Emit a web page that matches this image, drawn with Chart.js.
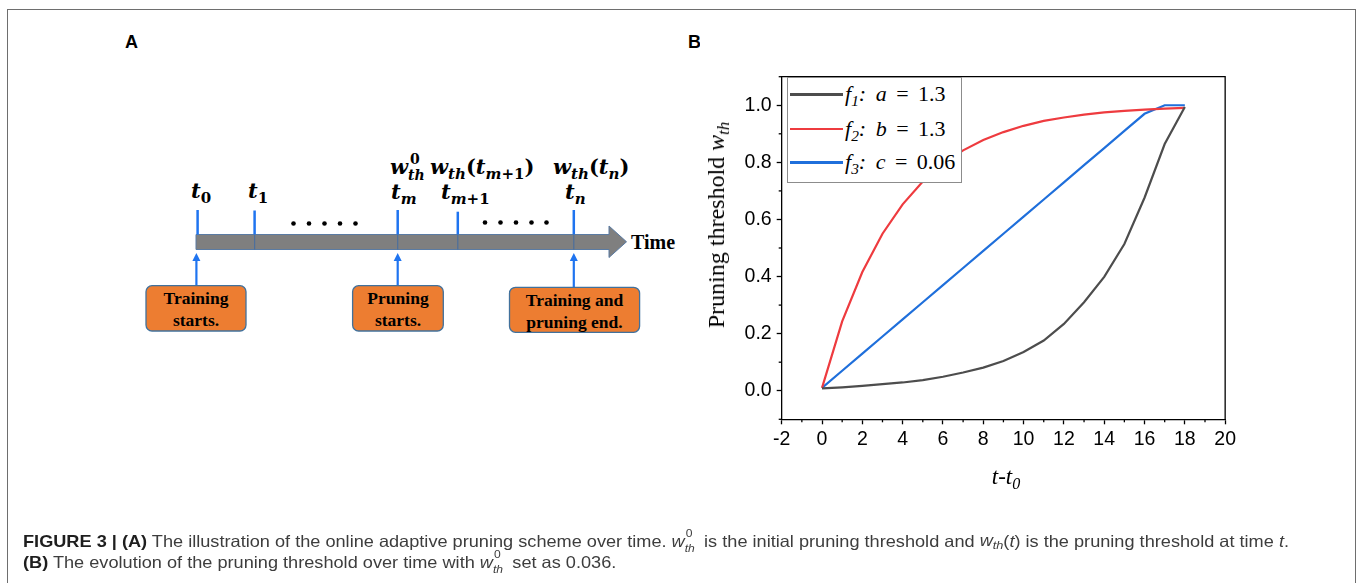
<!DOCTYPE html>
<html><head><meta charset="utf-8">
<script src="https://cdn.jsdelivr.net/npm/chart.js@4.4.1/dist/chart.umd.min.js"></script>
<style>
html,body{margin:0;padding:0;background:#fff;}
body{width:1358px;height:583px;position:relative;overflow:hidden;font-family:"Liberation Sans",Arial,sans-serif;}
#frame{position:absolute;left:7px;top:9px;width:1349px;height:640px;border:1.5px solid #6e6e6e;box-sizing:border-box;}
#panelA{position:absolute;left:0;top:0;}
#chartBox{position:absolute;left:700px;top:60px;width:540px;height:420px;}
.serif{font-family:"Liberation Serif","Times New Roman",serif;}
#ytitle{position:absolute;left:716px;top:225px;transform:translate(-50%,-50%) rotate(-90deg);white-space:nowrap;font-size:24px;line-height:28px;}
#xtitle{position:absolute;left:1006px;top:477px;transform:translate(-50%,-50%);font-size:23px;font-style:italic;white-space:nowrap;line-height:26px;}
sub{font-size:70%;vertical-align:-0.3em;line-height:0;}
#legend{position:absolute;left:787px;top:77px;width:175px;height:106px;border:1px solid #8c8c8c;box-sizing:border-box;background:#fff;}
.sw{position:absolute;left:2px;width:53px;height:2.4px;}
.lt{position:absolute;left:57px;font-size:22px;line-height:28px;white-space:nowrap;word-spacing:4px;}
.caption{position:absolute;left:23px;white-space:nowrap;font-size:16.5px;line-height:20px;color:#3d3d3d;transform-origin:0 50%;}
.caption b{color:#1e1e1e;}
.stk{display:inline-block;position:relative;width:13px;height:1em;}
.stk .s0{position:absolute;left:1px;top:-7px;font-size:11px;}
.stk .s1{position:absolute;left:0;top:8px;font-size:11px;font-style:italic;}
</style>
</head>
<body>
<div id="frame"></div>

<svg id="panelA" width="700" height="360" xmlns="http://www.w3.org/2000/svg">
  <text x="125" y="47.5" font-family="Liberation Sans" font-weight="bold" font-size="18">A</text>
  <text x="688" y="47.5" font-family="Liberation Sans" font-weight="bold" font-size="18">B</text>
  <!-- time arrow -->
  <polygon points="196,234.5 609,234.5 609,226 626.5,241.8 609,257.5 609,249.5 196,249.5" fill="#7f7f7f" stroke="#5a7ba3" stroke-width="1"/>
  <g stroke="#1f74f0" stroke-width="2.5">
    <line x1="197.6" y1="210" x2="197.6" y2="234.5"/>
    <line x1="254.6" y1="210.5" x2="254.6" y2="234.5"/>
    <line x1="397.7" y1="210" x2="397.7" y2="234.5"/>
    <line x1="457.8" y1="211.7" x2="457.8" y2="234.5"/>
    <line x1="573.8" y1="210" x2="573.8" y2="234.5"/>
  </g>
  <g stroke="#4d6f9c" stroke-width="1.2">
    <line x1="254.6" y1="234.5" x2="254.6" y2="249.5"/>
    <line x1="397.7" y1="234.5" x2="397.7" y2="249.5"/>
    <line x1="457.8" y1="234.5" x2="457.8" y2="249.5"/>
    <line x1="573.8" y1="234.5" x2="573.8" y2="249.5"/>
  </g>
  <text x="631" y="249" font-family="Liberation Serif" font-weight="bold" font-size="20">Time</text>
  <!-- dots -->
  <g fill="#000">
    <circle cx="293.5" cy="223.5" r="2.3"/><circle cx="309" cy="223.5" r="2.3"/><circle cx="324.5" cy="223.5" r="2.3"/><circle cx="340" cy="223.5" r="2.3"/><circle cx="355.5" cy="223.5" r="2.3"/>
    <circle cx="485" cy="222.5" r="2.3"/><circle cx="500.5" cy="222.5" r="2.3"/><circle cx="516" cy="222.5" r="2.3"/><circle cx="531.5" cy="222.5" r="2.3"/><circle cx="546.5" cy="222.5" r="2.3"/>
  </g>
  <!-- up arrows -->
  <g stroke="#1f74f0" stroke-width="2.2" fill="#1f74f0">
    <line x1="196.4" y1="285.5" x2="196.4" y2="259"/>
    <polygon points="196.4,253 192.4,261 200.4,261" stroke-width="0"/>
    <line x1="397.7" y1="285.5" x2="397.7" y2="259"/>
    <polygon points="397.7,253 393.7,261 401.7,261" stroke-width="0"/>
    <line x1="573.8" y1="287" x2="573.8" y2="259"/>
    <polygon points="573.8,253 569.8,261 577.8,261" stroke-width="0"/>
  </g>
  <!-- boxes -->
  <g fill="#ed7d31" stroke="#41719c" stroke-width="1.3">
    <rect x="146" y="285.7" width="100" height="45.3" rx="6"/>
    <rect x="352.6" y="285.7" width="90.7" height="45.3" rx="6"/>
    <rect x="509.5" y="287.3" width="130.1" height="45" rx="6"/>
  </g>
  <g font-family="Liberation Serif" font-weight="bold" font-size="17.5" text-anchor="middle" fill="#000">
    <text x="196" y="304">Training</text><text x="196" y="326">starts.</text>
    <text x="398" y="304">Pruning</text><text x="398" y="326">starts.</text>
    <text x="574.5" y="305.5">Training and</text><text x="574.5" y="327.5">pruning end.</text>
  </g>
  <!-- math labels -->
  <g font-family="DejaVu Serif" font-weight="bold" font-style="italic" font-size="21" fill="#000">
    <text x="191" y="198">t<tspan dy="5" font-size="15" font-style="normal">0</tspan></text>
    <text x="248" y="198">t<tspan dy="5" font-size="15" font-style="normal">1</tspan></text>
    <text x="391" y="199">t<tspan dy="5" font-size="15">m</tspan></text>
    <text x="441" y="199">t<tspan dy="5" font-size="15">m</tspan><tspan font-size="15" font-style="normal">+1</tspan></text>
    <text x="565" y="199">t<tspan dy="5" font-size="15">n</tspan></text>
    <text x="390" y="174">w</text>
    <text x="410" y="164" font-size="14" font-style="normal">0</text>
    <text x="408" y="180" font-size="14">th</text>
    <text x="430" y="174">w<tspan dy="5" font-size="15">th</tspan><tspan dy="-5" font-style="normal">(</tspan>t<tspan dy="5" font-size="15">m</tspan><tspan font-size="15" font-style="normal">+1</tspan><tspan dy="-5" font-style="normal">)</tspan></text>
    <text x="553" y="174">w<tspan dy="5" font-size="15">th</tspan><tspan dy="-5" font-style="normal">(</tspan>t<tspan dy="5" font-size="15">n</tspan><tspan dy="-5" font-style="normal">)</tspan></text>
  </g>
</svg>

<div id="chartBox"><canvas id="c" width="540" height="420"></canvas></div>
<div id="ytitle" class="serif">Pruning threshold <i>w<sub>th</sub></i></div>
<div id="xtitle" class="serif">t-t<sub>0</sub></div>
<div id="legend"></div>

<div class="caption" id="cap1"><b>FIGURE 3 | (A)</b> The illustration of the online adaptive pruning scheme over time. <i>w</i><span class="stk"><span class="s0">0</span><span class="s1">th</span></span> is the initial pruning threshold and <i>w<sub>th</sub></i>(<i>t</i>) is the pruning threshold at time <i>t</i>.</div>
<div class="caption" id="cap2"><b>(B)</b> The evolution of the pruning threshold over time with <i>w</i><span class="stk"><span class="s0">0</span><span class="s1">th</span></span> set as 0.036.</div>

<script>
// ---- data ----
const tValues  = [0,1,2,3,4,5,6,7,8,9,10,11,12,13,14,15,16,17,18];
const f1Values = [0.008,0.012,0.017,0.023,0.029,0.037,0.049,0.064,0.081,0.104,0.136,0.176,0.234,0.31,0.399,0.514,0.676,0.864,0.994];
const f2Values = [0.01,0.243,0.416,0.55,0.653,0.733,0.795,0.842,0.878,0.906,0.928,0.945,0.957,0.967,0.975,0.98,0.985,0.988,0.991];
const f3Values = [0.01,0.07,0.13,0.19,0.25,0.31,0.37,0.43,0.49,0.55,0.61,0.67,0.73,0.79,0.85,0.91,0.97,1.0,1.0];
const seriesNames  = ['f','f','f'];
const seriesSubs   = ['1','2','3'];
const seriesParams = ['a','b','c'];
const paramValues  = ['1.3','1.3','0.06'];
const seriesColors = ['#4d4d4d','#ee3b3f','#1f6fdb'];
const xTickRange = [-2, 20];
const yTickRange = [-0.1, 1.1];

const seriesData = [f1Values, f2Values, f3Values];

// legend (HTML, real text with subscripts)
const legend = document.getElementById('legend');
const rowCenters = [16.5, 51, 84.5];
seriesData.forEach((_, i) => {
  const sw = document.createElement('div');
  sw.className = 'sw';
  sw.style.top = (rowCenters[i] - 1.2) + 'px';
  sw.style.background = seriesColors[i];
  legend.appendChild(sw);
  const lt = document.createElement('div');
  lt.className = 'lt serif';
  lt.style.top = (rowCenters[i] - 14.5) + 'px';
  lt.innerHTML = '<i>' + seriesNames[i] + '<sub>' + seriesSubs[i] + '</sub>:</i> <i>' + seriesParams[i] + '</i> = ' + paramValues[i];
  legend.appendChild(lt);
});

const frameAndMinor = {
  id: 'frameAndMinor',
  afterDraw(chart) {
    const ctx = chart.ctx, a = chart.chartArea, xs = chart.scales.x, ys = chart.scales.y;
    ctx.save();
    ctx.strokeStyle = '#000';
    ctx.lineWidth = 1.3;
    ctx.beginPath();
    ctx.moveTo(a.left, a.top); ctx.lineTo(a.right, a.top); ctx.lineTo(a.right, a.bottom);
    ctx.stroke();
    xs.ticks.forEach(t => {
      if (Math.round(t.value) % 2 !== 0) {
        const px = xs.getPixelForValue(t.value);
        ctx.beginPath(); ctx.moveTo(px, a.bottom); ctx.lineTo(px, a.bottom + 3); ctx.stroke();
      }
    });
    ys.ticks.forEach(t => {
      if (Math.round(t.value * 10) % 2 !== 0) {
        const py = ys.getPixelForValue(t.value);
        ctx.beginPath(); ctx.moveTo(a.left, py); ctx.lineTo(a.left - 3, py); ctx.stroke();
      }
    });
    ctx.restore();
  }
};

const tickFont = {family: '"Liberation Sans", Arial, sans-serif', size: 19.5};

new Chart(document.getElementById('c'), {
  type: 'line',
  data: {
    datasets: seriesData.map((vals, i) => ({
      label: seriesNames[i] + seriesSubs[i],
      data: tValues.map((t, j) => ({x: t, y: vals[j]})),
      borderColor: seriesColors[i],
      borderWidth: 2.2,
      pointRadius: 0,
      tension: 0,
      fill: false
    }))
  },
  options: {
    responsive: false,
    animation: false,
    layout: {padding: {left: 0, right: 14, top: 12.7, bottom: 0}},
    plugins: {legend: {display: false}, tooltip: {enabled: false}},
    scales: {
      x: {
        type: 'linear', min: xTickRange[0], max: xTickRange[1],
        afterFit(s) { s.height = 60.7; },
        ticks: {
          stepSize: 1, autoSkip: false, maxRotation: 0, padding: 4, color: '#000', font: tickFont,
          callback: v => (Math.round(v) % 2 === 0 ? String(Math.round(v)) : '')
        },
        grid: {
          drawOnChartArea: false, tickLength: 5, tickWidth: 1.3,
          tickColor: c => (c.tick && Math.round(c.tick.value) % 2 !== 0) ? 'rgba(0,0,0,0)' : '#000'
        },
        border: {color: '#000', width: 1.3}
      },
      y: {
        type: 'linear', min: yTickRange[0], max: yTickRange[1],
        afterFit(s) { s.width = 81.7; },
        ticks: {
          stepSize: 0.1, autoSkip: false, padding: 5, color: '#000', font: tickFont,
          callback: v => { const k = Math.round(v * 10); return (k % 2 === 0 && k >= 0 && k <= 10) ? (k / 10).toFixed(1) : ''; }
        },
        grid: {
          drawOnChartArea: false, tickLength: 5, tickWidth: 1.3,
          tickColor: c => (c.tick && Math.round(c.tick.value * 10) % 2 !== 0) ? 'rgba(0,0,0,0)' : '#000'
        },
        border: {color: '#000', width: 1.3}
      }
    }
  },
  plugins: [frameAndMinor]
});

// caption lines: fit to the reference line length
function fitCaption() {
  const c1 = document.getElementById('cap1'), c2 = document.getElementById('cap2');
  c1.style.transform = 'none'; c2.style.transform = 'none';
  const w = c1.getBoundingClientRect().width;
  const s = 1266 / w;
  c1.style.transform = 'scaleX(' + s + ')';
  c2.style.transform = 'scaleX(' + s + ')';
}
document.getElementById('cap1').style.top = '529.5px';
document.getElementById('cap2').style.top = '550.5px';
fitCaption();
if (document.fonts && document.fonts.ready) document.fonts.ready.then(fitCaption);
</script>
</body></html>
